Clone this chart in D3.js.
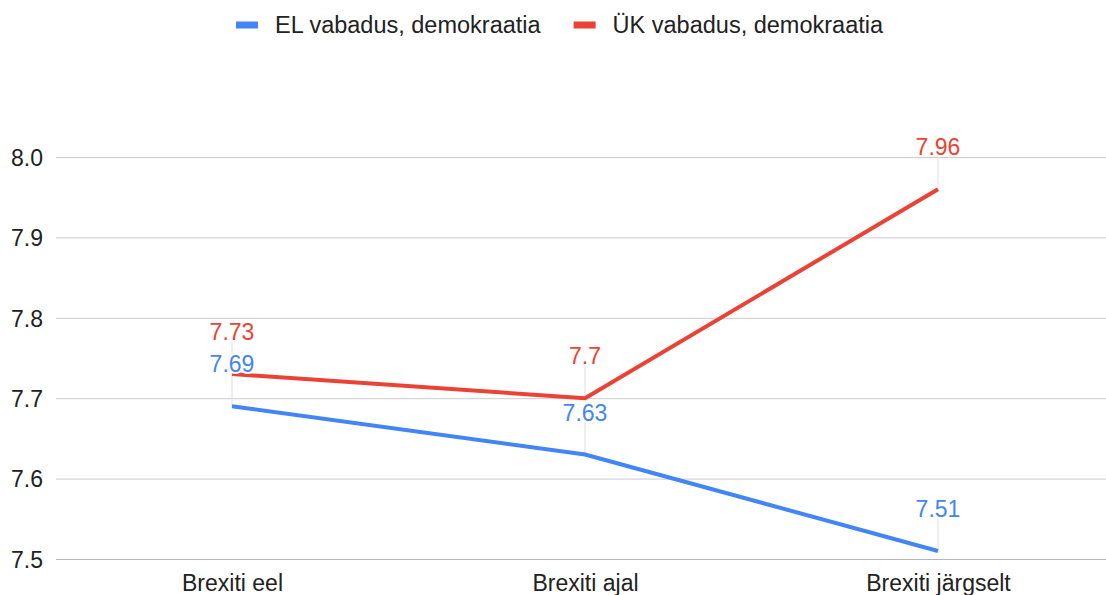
<!DOCTYPE html>
<html><head><meta charset="utf-8">
<script src="https://cdn.jsdelivr.net/npm/d3@7"></script>
<style>body{margin:0;background:#fff}svg{display:block}text{font-family:"Liberation Sans",Arial,sans-serif}</style>
</head><body><svg id="c" width="1106" height="595"></svg>
<script>
const categories = ["Brexiti eel", "Brexiti ajal", "Brexiti järgselt"];
const seriesNames = ["EL vabadus, demokraatia", "ÜK vabadus, demokraatia"];
const elValues = [7.69, 7.63, 7.51];
const ukValues = [7.73, 7.70, 7.96];
const yTicks = [7.5, 7.6, 7.7, 7.8, 7.9, 8.0];
const colors = ["#4285F4", "#EA4335"];

const series = [
  {name: seriesNames[0], values: elValues, color: colors[0]},
  {name: seriesNames[1], values: ukValues, color: colors[1]}
];
const AX = '"Liberation Sans", Arial, sans-serif';

const svg = d3.select("#c");
const x = d3.scalePoint().domain(categories).range([55.5, 1114.5]).padding(0.5);
const y = d3.scaleLinear().domain([7.5, 8.0]).range([559, 157]);

// gridlines
const grid = svg.append("g").attr("transform", "translate(56,0)")
  .call(d3.axisLeft(y).tickValues(yTicks).tickSize(-1050).tickFormat(""));
grid.select(".domain").remove();
grid.selectAll("line").attr("stroke", "#cccccc").attr("stroke-width", 1);
grid.selectAll("line").filter(d => d === 7.5).attr("stroke", "#b7b7b7");

// y tick labels
const ya = svg.append("g").attr("transform", "translate(43,0)")
  .call(d3.axisLeft(y).tickValues(yTicks).tickSize(0).tickPadding(0).tickFormat(d3.format(".1f")));
ya.select(".domain").remove();
ya.selectAll("text").attr("font-size", 23).attr("fill", "#222").attr("font-family", AX).attr("dy", "0.36em");

// x labels
const xa = svg.append("g").attr("transform", "translate(0,574)")
  .call(d3.axisBottom(x).tickSize(0).tickPadding(0));
xa.select(".domain").remove();
xa.selectAll("text").attr("font-size", 23).attr("fill", "#222").attr("dy", "0.72em").attr("font-family", AX);

// leader lines
const labelOff = 42;
series.forEach(s => {
  svg.append("g").selectAll("line").data(s.values).join("line")
    .attr("x1", (d, i) => x(categories[i])).attr("x2", (d, i) => x(categories[i]))
    .attr("y1", d => y(d)).attr("y2", d => y(d) - labelOff + 8)
    .attr("stroke", "#dddddd").attr("stroke-width", 1);
});

// lines
const line = d3.line().x((d, i) => x(categories[i])).y(d => y(d));
series.forEach(s => {
  svg.append("path").datum(s.values).attr("d", line)
    .attr("fill", "none").attr("stroke", s.color).attr("stroke-width", 4)
    .attr("stroke-linejoin", "round").attr("stroke-linecap", "butt");
});

// data labels
series.forEach(s => {
  svg.append("g").selectAll("text").data(s.values).join("text")
    .attr("x", (d, i) => x(categories[i])).attr("y", d => y(d) - labelOff)
    .attr("dy", "0.35em").attr("text-anchor", "middle")
    .attr("font-size", 23).attr("fill", s.color).attr("font-family", "Roboto, sans-serif")
    .attr("stroke", "#fff").attr("stroke-width", 4).attr("paint-order", "stroke")
    .attr("stroke-linejoin", "round")
    .text(d => String(+d));
});

// legend
const lg = svg.append("g");
let cx = 0;
const sw = 22, gapText = 17, gapItem = 33;
series.forEach((s, i) => {
  const g = lg.append("g");
  g.append("rect").attr("x", 0).attr("y", -3.5).attr("width", sw).attr("height", 7).attr("fill", s.color);
  const t = g.append("text").attr("x", sw + gapText).attr("y", 0).attr("dy", "0.35em")
    .attr("font-size", 23.5).attr("fill", "#222").attr("font-family", AX).text(s.name);
  const w = sw + gapText + t.node().getComputedTextLength();
  g.attr("transform", `translate(${cx},25)`);
  cx += w + gapItem;
});
const total = cx - gapItem;
lg.attr("transform", `translate(${559.5 - total / 2},0)`);
</script></body></html>
